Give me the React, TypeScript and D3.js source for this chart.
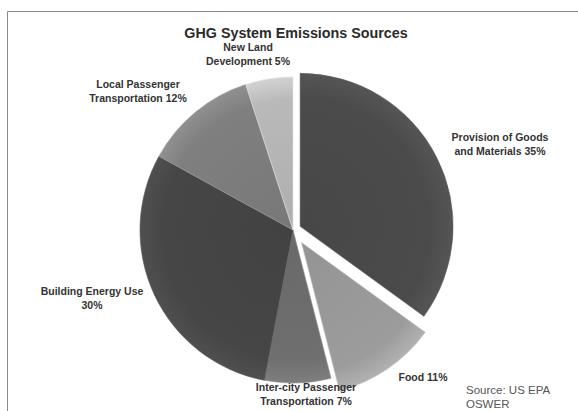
import React from "react";
import * as d3 from "d3";

const categories = [
  "Provision of Goods and Materials",
  "Food",
  "Inter-city Passenger Transportation",
  "Building Energy Use",
  "Local Passenger Transportation",
  "New Land Development",
];
const values = [35, 11, 7, 30, 12, 5];
const labelLines = [
  ["Provision of Goods", "and Materials 35%"],
  ["Food 11%"],
  ["Inter-city Passenger", "Transportation  7%"],
  ["Building Energy Use", "30%"],
  ["Local Passenger", "Transportation 12%"],
  ["New Land", "Development 5%"],
];

const colors = ["#4b4b4b", "#9c9c9c", "#6f6f6f", "#464646", "#7f7f7f", "#b9b9b9"];
const explode = [8, 15, 0, 0, 0, 0];
// label centers relative to pie center (layout)
const labelOffsets: [number, number, string][] = [
  [207, -87, "middle"],
  [130, 147, "middle"],
  [13, 163, "middle"],
  [-201, 67, "middle"],
  [-155, -140, "middle"],
  [-45, -177, "middle"],
];

const W = 578;
const H = 411;
const cx = 293;
const cy = 230;
const R = 153;

export default function App() {
  const pie = d3
    .pie<number>()
    .sort(null)
    .value((d) => d)
    .startAngle(0)
    .endAngle(2 * Math.PI);
  const arcs = pie(values);
  const arc = d3.arc<d3.PieArcDatum<number>>().innerRadius(0).outerRadius(R);
  const font = "'Liberation Sans', Arial, sans-serif";

  return (
    <svg
      width={W}
      height={H}
      style={{ position: "absolute", left: 0, top: 0, background: "#fff" }}
    >
      <defs>
        {colors.map((c, i) => {
          const col = d3.color(c)!;
          return (
            <radialGradient
              key={i}
              id={`g${i}`}
              gradientUnits="userSpaceOnUse"
              cx={0}
              cy={0}
              r={R}
            >
              <stop offset="0%" stopColor={col.darker(0.15).toString()} />
              <stop offset="85%" stopColor={col.toString()} />
              <stop offset="100%" stopColor={col.brighter(0.35).toString()} />
            </radialGradient>
          );
        })}
      </defs>
      <line x1={7.5} y1={11.5} x2={W} y2={11.5} stroke="#8a8a8a" strokeWidth={1} />
      <line x1={7.5} y1={11.5} x2={7.5} y2={H} stroke="#8a8a8a" strokeWidth={1} />
      <text
        x={296}
        y={38}
        textAnchor="middle"
        fontFamily={font}
        fontWeight="bold"
        fontSize={14.3}
        fill="#2a2a2a"
      >
        GHG System Emissions Sources
      </text>
      <g transform={`translate(${cx},${cy})`}>
        {arcs.map((a, i) => {
          const mid = (a.startAngle + a.endAngle) / 2;
          const dx = Math.sin(mid) * explode[i];
          const dy = -Math.cos(mid) * explode[i];
          return (
            <g key={i} transform={`translate(${dx},${dy})`}>
              <path
                d={arc(a) || ""}
                fill={`url(#g${i})`}
                stroke={d3.color(colors[i])!.brighter(0.6).toString()}
                strokeWidth={1}
                strokeOpacity={0.6}
              />
            </g>
          );
        })}
        {labelLines.map((lines, i) => {
          const [ox, oy, anchor] = labelOffsets[i];
          return (
            <text
              key={i}
              x={ox}
              y={oy}
              textAnchor={anchor}
              fontFamily={font}
              fontWeight="bold"
              fontSize={10.5}
              fill="#333"
            >
              {lines.map((l, j) => (
                <tspan key={j} x={ox} dy={j === 0 ? (lines.length === 1 ? 4 : -2) : 14}>
                  {l}
                </tspan>
              ))}
            </text>
          );
        })}
      </g>
      <text fontFamily={font} fontSize={11.5} fill="#555">
        <tspan x={466} y={394}>Source: US EPA</tspan>
        <tspan x={466} y={408}>OSWER</tspan>
      </text>
    </svg>
  );
}
